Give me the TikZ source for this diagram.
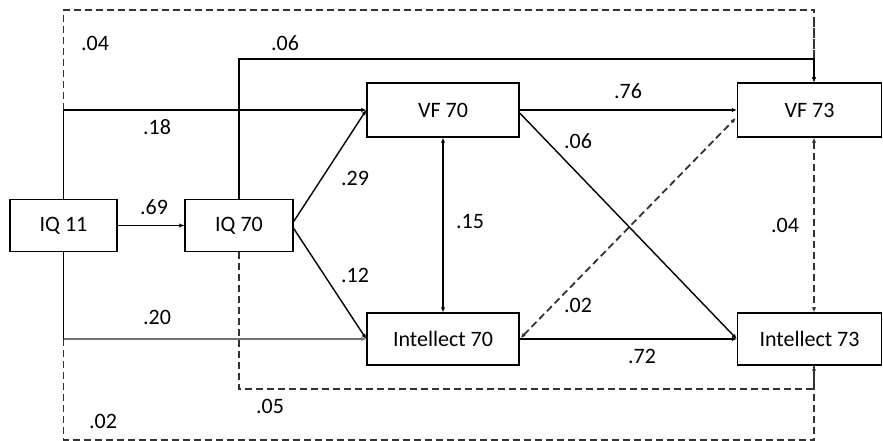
\documentclass[tikz,border=0pt]{standalone}
\usepackage{fontspec}
\setmainfont{Carlito}
\usetikzlibrary{arrows.meta,calc}
\begin{document}
\begin{tikzpicture}[x=1pt,y=-1pt,
  font=\fontsize{22}{26}\selectfont,
  box/.style={draw=black,line width=1.4pt,fill=white,inner sep=0pt,minimum height=52pt},
  lbl/.style={inner sep=0pt},
  solidline/.style={draw=black,line width=1.4pt},
  dashline/.style={draw=black!80,line width=1.8pt,dash pattern=on 7pt off 4pt},
  tip/.style={-{Latex[length=5pt,width=4.5pt]}},
  tips/.style={{Latex[length=5pt,width=4.5pt]}-{Latex[length=5pt,width=4.5pt]}}]
\useasboundingbox (0,0) rectangle (883,441);
% boxes
\node[box,minimum width=107pt] (iq11) at (63.5,225.5) {IQ 11};
\node[box,minimum width=108pt] (iq70) at (239,225.5) {IQ 70};
\node[box,minimum width=152pt,minimum height=54pt] (vf70) at (443,110) {VF 70};
\node[box,minimum width=152pt] (int70) at (443,339) {Intellect 70};
\node[box,minimum width=144pt,minimum height=54pt] (vf73) at (809.5,110) {VF 73};
\node[box,minimum width=144pt] (int73) at (809.5,339) {Intellect 73};
\coordinate (vt) at ($(vf73.north)+(4.5,0)$);
\coordinate (vb) at ($(vf73.south)+(4.5,0)$);
\coordinate (it) at ($(int73.north)+(4.5,0)$);
\coordinate (ib) at ($(int73.south)+(4.5,0)$);
% dashed paths
\draw[dashline] (iq11.north |- vf70.west) coordinate (c1) -- (c1 |- 0,10) -- (vt |- 0,10) -- (vt);
\draw[dashline] (iq11.south |- int70.west) coordinate (c2) -- (c2 |- 0,440) -- (ib |- 0,440) -- (ib);
\draw[dashline] (iq70.south) -- (iq70.south |- 0,389) -| (ib);
\draw[dashline,tips] (vb) -- (it);
\draw[dashline,tips] ($(int70.east)+(1,-1)$) -- ($(vf73.west)+(-1,8)$);
\draw[dashline,tip] (vt |- 0,20) -- (vt);
\draw[dashline,tip] (ib |- 0,380) -- (ib);
% solid paths
\draw[solidline] (iq11.north) -- (c1);
\draw[solidline,tip] (c1) -- (vf70.west);
\draw[solidline] (iq11.south) -- (c2);
\draw[draw=black!55,line width=2.2pt,tip] (c2) -- (int70.west);
\draw[solidline,tip] (iq70.north) -- (iq70.north |- 0,59) -| (vt);
\draw[solidline,tip] (iq11.east) -- (iq70.west);
\draw[solidline,tip] ($(iq70.east)+(0,-4)$) -- (vf70.west);
\draw[solidline,tip] ($(iq70.east)+(0,3)$) -- (int70.west);
\draw[solidline,tips] (vf70.south) -- (int70.north);
\draw[solidline,tip] (vf70.east) -- (vf73.west);
\draw[solidline,tip] ($(vf70.east)+(0,3)$) -- (int73.west);
\draw[solidline,tip] (int70.east) -- (int73.west);
% labels
\node[lbl] (l1) at (95,43) {.04};
\node[lbl] (l2) at (285,43) {.06};
\node[lbl] (l3) at (157,127) {.18};
\node[lbl] (l4) at (154,207) {.69};
\node[lbl] (l5) at (355,178) {.29};
\node[lbl] (l6) at (355,275) {.12};
\node[lbl] (l7) at (157,317) {.20};
\node[lbl] (l8) at (470,222) {.15};
\node[lbl] (l9) at (628,91) {.76};
\node[lbl] (l10) at (578,141) {.06};
\node[lbl] (l11) at (785,225) {.04};
\node[lbl] (l12) at (578,305) {.02};
\node[lbl] (l13) at (642,356) {.72};
\node[lbl] (l14) at (270,406) {.05};
\node[lbl] (l15) at (103,421) {.02};
\end{tikzpicture}
\end{document}
